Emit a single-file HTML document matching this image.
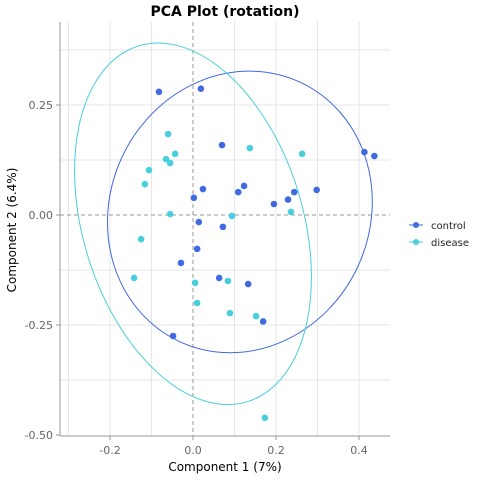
<!DOCTYPE html>
<html><head><meta charset="utf-8"><style>
html,body{margin:0;padding:0;background:#fff;}
svg{display:block;font-family:"DejaVu Sans","Liberation Sans",sans-serif;}
</style></head><body>
<svg id="chart" width="480" height="480">
<text x="225" y="16" text-anchor="middle" font-size="14" font-weight="bold" fill="#000">PCA Plot (rotation)</text>
<g id="grid"></g>
<g id="ellipses"></g>
<g id="points"></g>
<g id="axes"></g>
<text x="225" y="471" text-anchor="middle" font-size="12" fill="#000">Component 1 (7%)</text>
<text transform="translate(16,230) rotate(-90)" text-anchor="middle" font-size="12" fill="#000">Component 2 (6.4%)</text>
<g>
<g>
<line x1="409" y1="225" x2="423" y2="225" stroke="#4169e1" stroke-width="1"/>
<circle cx="416" cy="225" r="3" fill="#4169e1"/>
<text x="431" y="229" font-size="10" fill="#222">control</text></g>
<g>
<line x1="409" y1="242" x2="423" y2="242" stroke="#48cfdc" stroke-width="1"/>
<circle cx="416" cy="242" r="3" fill="#48cfdc"/>
<text x="431" y="246" font-size="10" fill="#222">disease</text></g>
</g>
</svg>
<script>
const xTicks=[-0.2,0,0.2,0.4];
const xTickLabels=["-0.2","0.0","0.2","0.4"];
const yTicks=[0.25,0,-0.25,-0.5];
const yTickLabels=["0.25","0.00","-0.25","-0.50"];
const controlX=[-0.082,0.019,0.070,0.002,0.024,0.109,0.123,0.195,0.229,0.244,0.298,0.413,0.437,0.014,0.072,0.010,-0.029,0.063,0.133,0.169,-0.048];
const controlY=[0.280,0.287,0.159,0.039,0.059,0.052,0.066,0.025,0.035,0.052,0.057,0.143,0.134,-0.016,-0.027,-0.077,-0.109,-0.143,-0.157,-0.242,-0.275];
const diseaseX=[-0.060,-0.043,-0.065,-0.055,-0.106,-0.116,0.137,0.263,-0.055,0.094,0.236,-0.125,-0.142,0.005,0.084,0.010,0.089,0.152,0.173];
const diseaseY=[0.184,0.139,0.127,0.118,0.102,0.070,0.152,0.139,0.002,-0.002,0.007,-0.055,-0.143,-0.154,-0.150,-0.200,-0.223,-0.230,-0.461];
const ellipseCenters=[[0.113,0.007],[0.000,-0.020]];
const ns="http://www.w3.org/2000/svg";
const L=60,R=390,T=22,B=436;
function sx(v){return 193+v*415;}
function sy(v){return 215-v*440;}
function mk(tag,attrs,parent){const e=document.createElementNS(ns,tag);for(const k in attrs)e.setAttribute(k,attrs[k]);parent.appendChild(e);return e;}
const grid=document.getElementById('grid');
mk('rect',{x:L,y:T,width:R-L,height:B-T,fill:'#fff'},grid);
[-0.3,-0.2,-0.1,0.1,0.2,0.3,0.4].forEach(v=>{const g=mk('line',{x1:sx(v),x2:sx(v),y1:T,y2:B,stroke:'#e6e6e6','stroke-width':1},grid);

});
[0.375,0.25,0.125,-0.125,-0.25,-0.375].forEach(v=>{const g=mk('line',{x1:L,x2:R,y1:sy(v),y2:sy(v),stroke:'#e6e6e6','stroke-width':1},grid);

});
mk('line',{x1:sx(0),x2:sx(0),y1:T,y2:B,stroke:'#999','stroke-dasharray':'4,3'},grid);
mk('line',{x1:L,x2:R,y1:sy(0),y2:sy(0),stroke:'#999','stroke-dasharray':'4,3'},grid);
const el=document.getElementById('ellipses');
const c1x=sx(ellipseCenters[0][0]),c1y=sy(ellipseCenters[0][1]);
const e1=mk('ellipse',{cx:c1x,cy:c1y,rx:130,ry:143,fill:'none',stroke:'#4169e1','stroke-width':1,transform:`rotate(25 ${c1x} ${c1y})`},el);


const c2x=sx(ellipseCenters[1][0]),c2y=sy(ellipseCenters[1][1]);
const e2=mk('ellipse',{cx:c2x,cy:c2y,rx:110,ry:186,fill:'none',stroke:'#48cfdc','stroke-width':1,transform:`rotate(-17 ${c2x} ${c2y})`},el);


const pts=document.getElementById('points');
controlX.forEach((x,i)=>{const c=mk('circle',{cx:sx(x),cy:sy(controlY[i]),r:3.3,fill:'#4169e1'},pts);

});
diseaseX.forEach((x,i)=>{const c=mk('circle',{cx:sx(x),cy:sy(diseaseY[i]),r:3.3,fill:'#48cfdc'},pts);

});
const ax=document.getElementById('axes');
mk('line',{x1:L,x2:L,y1:T,y2:B,stroke:'#999'},ax);
mk('line',{x1:L,x2:R,y1:B,y2:B,stroke:'#999'},ax);
xTicks.forEach((v,i)=>{mk('line',{x1:sx(v),x2:sx(v),y1:B,y2:B+4,stroke:'#999'},ax);
const t=mk('text',{x:sx(v),y:B+18,'text-anchor':'middle','font-size':11,fill:'#666'},ax);t.textContent=xTickLabels[i];

});
yTicks.forEach((v,i)=>{mk('line',{x1:L-4,x2:L,y1:sy(v),y2:sy(v),stroke:'#999'},ax);
const t=mk('text',{x:L-7,y:sy(v)+4,'text-anchor':'end','font-size':11,fill:'#666'},ax);t.textContent=yTickLabels[i];

});
</script>
</body></html>
